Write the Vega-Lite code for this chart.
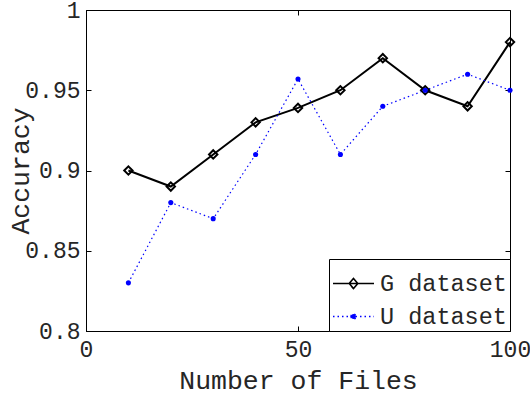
{
  "$schema": "https://vega.github.io/schema/vega-lite/v6.json",
  "width": 424,
  "height": 321,
  "autosize": {"type": "none"},
  "padding": {"left": 86, "top": 10, "right": 20, "bottom": 69},
  "background": "white",
  "config": {
    "view": {"stroke": "black", "strokeWidth": 1},
    "font": "Liberation Mono",
    "axis": {
      "labelFont": "Liberation Mono",
      "titleFont": "Liberation Mono",
      "labelColor": "#262626",
      "titleColor": "#262626",
      "labelFontWeight": "normal",
      "titleFontWeight": "normal",
      "labelFontSize": 23,
      "titleFontSize": 26.5,
      "labelFlush": false,
      "labelOverlap": false,
      "domainColor": "black",
      "tickColor": "black",
      "tickSize": -5,
      "grid": false
    },
    "legend": {
      "orient": "bottom-right",
      "offset": 0,
      "padding": 3,
      "strokeColor": "black",
      "fillColor": "white",
      "labelFont": "Liberation Mono",
      "labelFontSize": 23.5,
      "labelColor": "#262626",
      "labelOffset": 5,
      "rowPadding": -6,
      "symbolSize": 1681,
      "symbolOpacity": 1,
      "symbolStrokeWidth": 1.6
    }
  },
  "data": {
    "values": [
      {"files": 10, "acc": 0.90, "series": "G dataset"},
      {"files": 20, "acc": 0.89, "series": "G dataset"},
      {"files": 30, "acc": 0.91, "series": "G dataset"},
      {"files": 40, "acc": 0.93, "series": "G dataset"},
      {"files": 50, "acc": 0.939, "series": "G dataset"},
      {"files": 60, "acc": 0.95, "series": "G dataset"},
      {"files": 70, "acc": 0.97, "series": "G dataset"},
      {"files": 80, "acc": 0.95, "series": "G dataset"},
      {"files": 90, "acc": 0.94, "series": "G dataset"},
      {"files": 100, "acc": 0.98, "series": "G dataset"},
      {"files": 10, "acc": 0.83, "series": "U dataset"},
      {"files": 20, "acc": 0.88, "series": "U dataset"},
      {"files": 30, "acc": 0.87, "series": "U dataset"},
      {"files": 40, "acc": 0.91, "series": "U dataset"},
      {"files": 50, "acc": 0.957, "series": "U dataset"},
      {"files": 60, "acc": 0.91, "series": "U dataset"},
      {"files": 70, "acc": 0.94, "series": "U dataset"},
      {"files": 80, "acc": 0.95, "series": "U dataset"},
      {"files": 90, "acc": 0.96, "series": "U dataset"},
      {"files": 100, "acc": 0.95, "series": "U dataset"}
    ]
  },
  "resolve": {"axis": {"x": "independent", "y": "independent"}},
  "layer": [
    {
      "transform": [{"filter": "datum.series === 'G dataset'"}],
      "mark": {"type": "line", "color": "black", "strokeWidth": 2},
      "encoding": {
        "x": {
          "field": "files", "type": "quantitative",
          "scale": {"domain": [0, 100], "nice": false, "zero": false},
          "axis": {"orient": "bottom", "values": [0, 50, 100], "title": "Number of Files", "labelPadding": 12, "titlePadding": 6}
        },
        "y": {
          "field": "acc", "type": "quantitative",
          "scale": {"domain": [0.8, 1], "nice": false, "zero": false},
          "axis": {"orient": "left", "values": [0.8, 0.85, 0.9, 0.95, 1], "format": "~g", "title": "Accuracy", "labelPadding": 11, "titlePadding": -10}
        }
      }
    },
    {
      "transform": [{"filter": "datum.series === 'U dataset'"}],
      "mark": {"type": "line", "color": "#0000ff", "strokeWidth": 1.2, "strokeDash": [1.5, 3]},
      "encoding": {
        "x": {
          "field": "files", "type": "quantitative",
          "axis": {"orient": "top", "values": [0, 50, 100], "labels": false, "title": null, "domain": false}
        },
        "y": {
          "field": "acc", "type": "quantitative",
          "axis": {"orient": "right", "values": [0.8, 0.85, 0.9, 0.95, 1], "labels": false, "title": null, "domain": false}
        }
      }
    },
    {
      "transform": [{"filter": "datum.series === 'G dataset'"}],
      "mark": {"type": "point", "shape": "diamond", "color": "black", "strokeWidth": 2, "size": 70, "opacity": 1},
      "encoding": {
        "x": {"field": "files", "type": "quantitative", "axis": null},
        "y": {"field": "acc", "type": "quantitative", "axis": null}
      }
    },
    {
      "transform": [{"filter": "datum.series === 'U dataset'"}],
      "mark": {"type": "circle", "color": "#0000ff", "size": 26, "opacity": 1},
      "encoding": {
        "x": {"field": "files", "type": "quantitative", "axis": null},
        "y": {"field": "acc", "type": "quantitative", "axis": null}
      }
    },
    {
      "mark": {"type": "point", "opacity": 0},
      "encoding": {
        "x": {"field": "files", "type": "quantitative", "axis": null},
        "y": {"field": "acc", "type": "quantitative", "axis": null},
        "shape": {
          "field": "series", "type": "nominal",
          "scale": {"domain": ["G dataset", "U dataset"], "range": ["M-1,0H1M0,-0.25L0.21,0L0,0.25L-0.21,0Z", "M-1,0H1M-0.12,0A0.12,0.12,0,1,1,0.12,0A0.12,0.12,0,1,1,-0.12,0Z"]},
          "legend": {"title": null}
        },
        "stroke": {
          "field": "series", "type": "nominal",
          "scale": {"domain": ["G dataset", "U dataset"], "range": ["black", "#0000ff"]},
          "legend": {"title": null}
        },
        "fill": {
          "field": "series", "type": "nominal",
          "scale": {"domain": ["G dataset", "U dataset"], "range": ["transparent", "#0000ff"]},
          "legend": {"title": null}
        },
        "strokeDash": {
          "field": "series", "type": "nominal",
          "scale": {"domain": ["G dataset", "U dataset"], "range": [[1, 0], [1.5, 3]]},
          "legend": {"title": null}
        }
      }
    }
  ]
}
